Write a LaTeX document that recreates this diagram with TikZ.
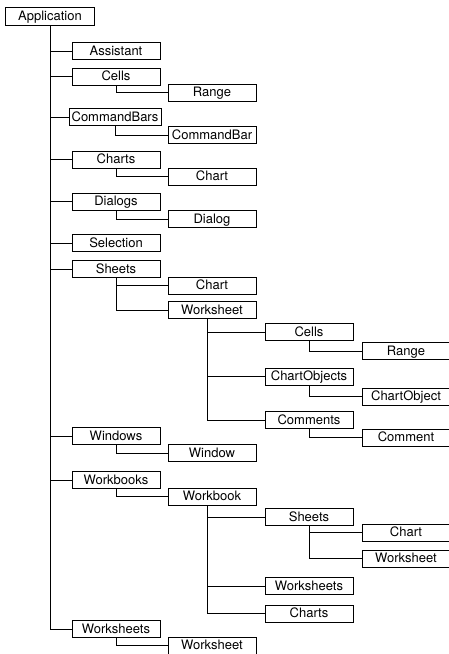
\documentclass[tikz,border=0pt]{standalone}
\usepackage{fontspec}
\setmainfont{TeX Gyre Heros}
\tikzset{
  box/.style={draw, line width=1pt, minimum width=88pt, minimum height=17pt, inner sep=0pt,
    text height=9pt, text depth=0.3pt, font=\fontsize{13}{15}\selectfont},
  wide/.style={box, minimum width=92pt},
  conn/.style={line width=1pt},
}
\begin{document}
\begin{tikzpicture}[x=1pt,y=-1pt]
\useasboundingbox (0,0) rectangle (449,654);
\clip (0,0) rectangle (449,654);
% root
\node[box, minimum width=89pt, minimum height=18pt] (app) at (50,16) {Application};
% level 1
\node[box] (assist) at (116,51) {Assistant};
\node[box] (cellsA) at (116,76.5) {Cells};
\node[wide] (cbars) at (115,117) {CommandBars};
\node[box] (chartsA) at (116,159.5) {Charts};
\node[box] (dialogs) at (116,201.5) {Dialogs};
\node[box] (select) at (116,243) {Selection};
\node[box] (sheetsA) at (116,269) {Sheets};
\node[box] (windows) at (116,436) {Windows};
\node[box] (wbooks) at (116,480) {Workbooks};
\node[box] (wsheetsA) at (116,629) {Worksheets};
% level 2
\node[box] (rangeA) at (212,92.5) {Range};
\node[box] (cbar) at (212,135) {CommandBar};
\node[box] (chartA) at (212,176.5) {Chart};
\node[box] (dialog) at (212,219) {Dialog};
\node[box] (chartB) at (212,285.5) {Chart};
\node[box] (wsA) at (212,310) {Worksheet};
\node[box] (window) at (212,453) {Window};
\node[box] (wbook) at (212,496.5) {Workbook};
\node[box] (wsB) at (212,645.5) {Worksheet};
% level 3
\node[box] (cellsB) at (309,332) {Cells};
\node[box] (cobjs) at (309,376.5) {ChartObjects};
\node[box] (comments) at (309,420) {Comments};
\node[box] (sheetsB) at (309,517) {Sheets};
\node[box] (wsheetsB) at (309,586) {Worksheets};
\node[box] (chartsB) at (309,613.5) {Charts};
% level 4
\node[box] (rangeB) at (406,351) {Range};
\node[box] (cobj) at (406,396.5) {ChartObject};
\node[box] (comment) at (406,437.5) {Comment};
\node[box] (chartC) at (406,532.5) {Chart};
\node[box] (wsC) at (406,558.5) {Worksheet};
% main trunk
\foreach \n in {assist,cellsA,cbars,chartsA,dialogs,select,sheetsA,windows,wbooks,wsheetsA}
  \draw[conn] (app.south) |- (\n.west);
% level 1 -> level 2
\draw[conn] (cellsA.south) |- (rangeA.west);
\draw[conn] (cbars.south) |- (cbar.west);
\draw[conn] (chartsA.south) |- (chartA.west);
\draw[conn] (dialogs.south) |- (dialog.west);
\draw[conn] (sheetsA.south) |- (chartB.west);
\draw[conn] (sheetsA.south) |- (wsA.west);
\draw[conn] (windows.south) |- (window.west);
\draw[conn] (wbooks.south) |- (wbook.west);
\draw[conn] (wsheetsA.south) |- (wsB.west);
% level 2 -> level 3
\foreach \n in {cellsB,cobjs,comments}
  \draw[conn] ([xshift=-5pt]wsA.south) |- (\n.west);
\foreach \n in {sheetsB,wsheetsB,chartsB}
  \draw[conn] ([xshift=-5pt]wbook.south) |- (\n.west);
% level 3 -> level 4
\draw[conn] (cellsB.south) |- (rangeB.west);
\draw[conn] (cobjs.south) |- (cobj.west);
\draw[conn] (comments.south) |- (comment.west);
\draw[conn] (sheetsB.south) |- (chartC.west);
\draw[conn] (sheetsB.south) |- (wsC.west);
\end{tikzpicture}
\end{document}
